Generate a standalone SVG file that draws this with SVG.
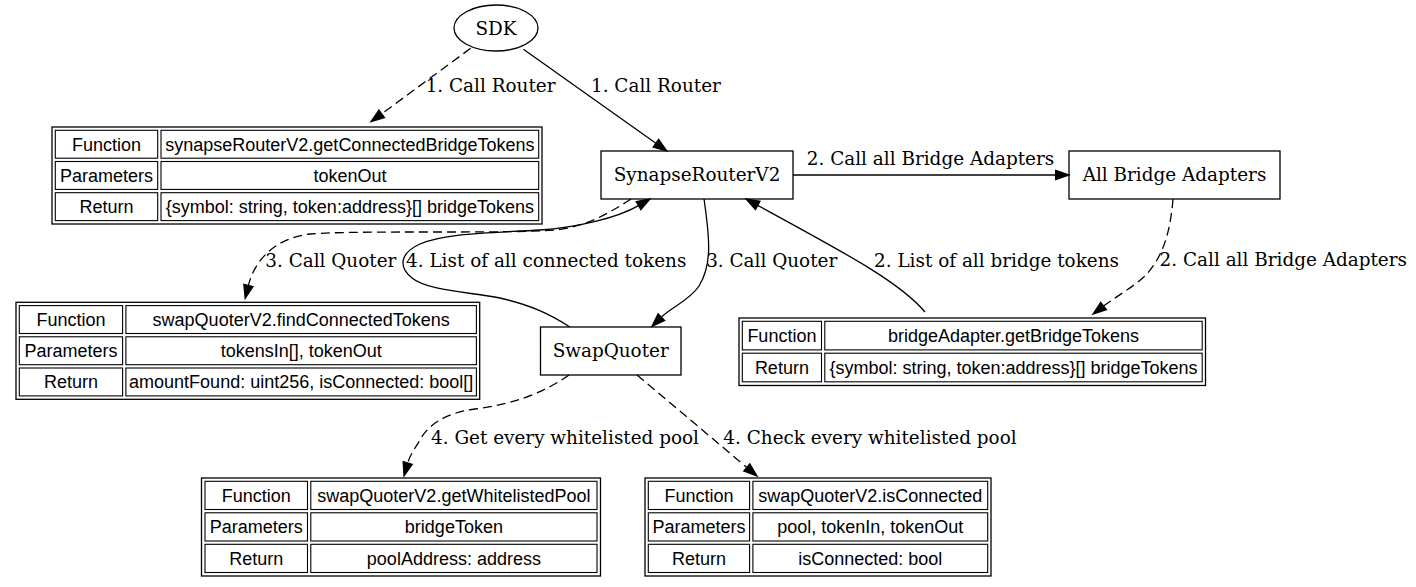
<svg xmlns="http://www.w3.org/2000/svg" width="1416" height="587" viewBox="0 0 1416 587">
<style>
  .bg { fill: #ffffff; }
  .node { fill: none; stroke: #000; stroke-width: 1.3; }
  .outer { fill: none; stroke: #000; stroke-width: 1.3; }
  .cell { fill: none; stroke: #000; stroke-width: 1.1; }
  .lbl { font-family: "DejaVu Serif", "Liberation Serif", serif; font-size: 18.4px; fill: #000; text-anchor: middle; }
  .ct { font-family: "Liberation Sans", Arial, sans-serif; font-size: 18px; fill: #000; text-anchor: middle; }
  .edge { fill: none; stroke: #000; stroke-width: 1.3; marker-end: url(#ah); }
  .dash { stroke-dasharray: 9 5; }
</style>
<defs>
  <marker id="ah" markerUnits="userSpaceOnUse" markerWidth="16" markerHeight="12" refX="0" refY="6" orient="auto" viewBox="0 0 16 12" overflow="visible">
    <path d="M0,1.3 L13.3,6 L0,10.7 Z" fill="#000" stroke="#000" stroke-width="1.3" stroke-dasharray="none"/>
  </marker>
</defs>
<rect class="bg" x="0" y="0" width="1416" height="587"/>

<g id="edges">
  <path class="edge dash" d="M470.6,48.3 L381.7,113.8"/>
  <path class="edge" d="M523.4,49.3 L655.9,143.3"/>
  <path class="edge" d="M793,175 L1055.7,175"/>
  <path class="edge dash" d="M1173,199 C1170,235 1162,258 1145,276 C1132,288 1116,296.5 1103.6,306"/>
  <path class="edge" d="M925,312 C900,282 845,253 757.7,205.4"/>
  <path class="edge" d="M704,199 C710,240 712,265 699,286 C690,300 671,307.6 661.4,317.1"/>
  <path class="edge" d="M570,327 C548,313 530,305 500,298 C470,292 428,291 412,278 C398,267 400,253 420,244 C445,233 490,233 540,230 C575,228 617,218 638.5,205.6"/>
  <path class="edge dash" d="M631,199 C608,214 585,227 555,230 C500,234 360,230 310,234 C276,238 255,259 248.4,285.4"/>
  <path class="edge dash" d="M569,375 C545,392 515,404 475,409 C445,413 428,425 420,440 C414,450 410,455 407.7,463"/>
  <path class="edge dash" d="M637,375 L746.8,467.4"/>

  <text class="lbl" x="490.6" y="92">1. Call Router</text>
  <text class="lbl" x="655.9" y="92">1. Call Router</text>
  <text class="lbl" x="930.5" y="165">2. Call all Bridge Adapters</text>
  <text class="lbl" x="330.8" y="267">3. Call Quoter</text>
  <text class="lbl" x="546.2" y="267">4. List of all connected tokens</text>
  <text class="lbl" x="771.7" y="267">3. Call Quoter</text>
  <text class="lbl" x="996.5" y="267">2. List of all bridge tokens</text>
  <text class="lbl" x="1283.3" y="266">2. Call all Bridge Adapters</text>
  <text class="lbl" x="565" y="443.5">4. Get every whitelisted pool</text>
  <text class="lbl" x="870" y="443.5">4. Check every whitelisted pool</text>
</g>

<g id="sdk">
  <ellipse class="node" cx="496" cy="28" rx="42" ry="23"/>
  <text class="lbl" x="496" y="34.5">SDK</text>
</g>

<g id="router">
  <rect class="node" x="601" y="151" width="192" height="48"/>
  <text class="lbl" x="697" y="181">SynapseRouterV2</text>
</g>

<g id="adapters">
  <rect class="node" x="1069" y="151" width="211" height="48"/>
  <text class="lbl" x="1174.5" y="181">All Bridge Adapters</text>
</g>

<g id="quoter">
  <rect class="node" x="540.5" y="327" width="140.5" height="48"/>
  <text class="lbl" x="610.7" y="357">SwapQuoter</text>
</g>

<g id="table_getConnectedBridgeTokens">
  <rect class="outer" x="52" y="127" width="490" height="97"/>
  <rect class="cell" x="55.3" y="130.3" width="102.4" height="27.9"/>
  <rect class="cell" x="161" y="130.3" width="377.7" height="27.9"/>
  <rect class="cell" x="55.3" y="161.5" width="102.4" height="27.9"/>
  <rect class="cell" x="161" y="161.5" width="377.7" height="27.9"/>
  <rect class="cell" x="55.3" y="192.7" width="102.4" height="27.9"/>
  <rect class="cell" x="161" y="192.7" width="377.7" height="27.9"/>
  <text class="ct" x="106.5" y="150.5">Function</text>
  <text class="ct" x="349.9" y="150.5">synapseRouterV2.getConnectedBridgeTokens</text>
  <text class="ct" x="106.5" y="181.7">Parameters</text>
  <text class="ct" x="349.9" y="181.7">tokenOut</text>
  <text class="ct" x="106.5" y="212.9">Return</text>
  <text class="ct" x="349.9" y="212.9">{symbol: string, token:address}[] bridgeTokens</text>
</g>

<g id="table_findConnectedTokens">
  <rect class="outer" x="16" y="302.3" width="463.7" height="97"/>
  <rect class="cell" x="19.3" y="305.6" width="103.3" height="27.9"/>
  <rect class="cell" x="125.9" y="305.6" width="350.5" height="27.9"/>
  <rect class="cell" x="19.3" y="336.8" width="103.3" height="27.9"/>
  <rect class="cell" x="125.9" y="336.8" width="350.5" height="27.9"/>
  <rect class="cell" x="19.3" y="368" width="103.3" height="27.9"/>
  <rect class="cell" x="125.9" y="368" width="350.5" height="27.9"/>
  <text class="ct" x="71" y="325.8">Function</text>
  <text class="ct" x="301.2" y="325.8">swapQuoterV2.findConnectedTokens</text>
  <text class="ct" x="71" y="357">Parameters</text>
  <text class="ct" x="301.2" y="357">tokensIn[], tokenOut</text>
  <text class="ct" x="71" y="388.2">Return</text>
  <text class="ct" x="301.2" y="388.2">amountFound: uint256, isConnected: bool[]</text>
</g>

<g id="table_getBridgeTokens">
  <rect class="outer" x="739" y="318" width="466.5" height="67.5"/>
  <rect class="cell" x="742.3" y="321.3" width="79.2" height="28.6"/>
  <rect class="cell" x="824.8" y="321.3" width="377.4" height="28.6"/>
  <rect class="cell" x="742.3" y="353.2" width="79.2" height="28.6"/>
  <rect class="cell" x="824.8" y="353.2" width="377.4" height="28.6"/>
  <text class="ct" x="781.9" y="341.8">Function</text>
  <text class="ct" x="1013.5" y="341.8">bridgeAdapter.getBridgeTokens</text>
  <text class="ct" x="781.9" y="373.7">Return</text>
  <text class="ct" x="1013.5" y="373.7">{symbol: string, token:address}[] bridgeTokens</text>
</g>

<g id="table_getWhitelistedPool">
  <rect class="outer" x="201.5" y="478" width="399" height="98"/>
  <rect class="cell" x="205" y="481.3" width="102.5" height="28.2"/>
  <rect class="cell" x="310.8" y="481.3" width="286.2" height="28.2"/>
  <rect class="cell" x="205" y="512.8" width="102.5" height="28.2"/>
  <rect class="cell" x="310.8" y="512.8" width="286.2" height="28.2"/>
  <rect class="cell" x="205" y="544.3" width="102.5" height="28.2"/>
  <rect class="cell" x="310.8" y="544.3" width="286.2" height="28.2"/>
  <text class="ct" x="256.3" y="501.6">Function</text>
  <text class="ct" x="453.9" y="501.6">swapQuoterV2.getWhitelistedPool</text>
  <text class="ct" x="256.3" y="533.1">Parameters</text>
  <text class="ct" x="453.9" y="533.1">bridgeToken</text>
  <text class="ct" x="256.3" y="564.6">Return</text>
  <text class="ct" x="453.9" y="564.6">poolAddress: address</text>
</g>

<g id="table_isConnected">
  <rect class="outer" x="645" y="478" width="346" height="98"/>
  <rect class="cell" x="648.3" y="481.3" width="101.3" height="28.2"/>
  <rect class="cell" x="752.9" y="481.3" width="234.8" height="28.2"/>
  <rect class="cell" x="648.3" y="512.8" width="101.3" height="28.2"/>
  <rect class="cell" x="752.9" y="512.8" width="234.8" height="28.2"/>
  <rect class="cell" x="648.3" y="544.3" width="101.3" height="28.2"/>
  <rect class="cell" x="752.9" y="544.3" width="234.8" height="28.2"/>
  <text class="ct" x="699" y="501.6">Function</text>
  <text class="ct" x="870.3" y="501.6">swapQuoterV2.isConnected</text>
  <text class="ct" x="699" y="533.1">Parameters</text>
  <text class="ct" x="870.3" y="533.1">pool, tokenIn, tokenOut</text>
  <text class="ct" x="699" y="564.6">Return</text>
  <text class="ct" x="870.3" y="564.6">isConnected: bool</text>
</g>
</svg>
